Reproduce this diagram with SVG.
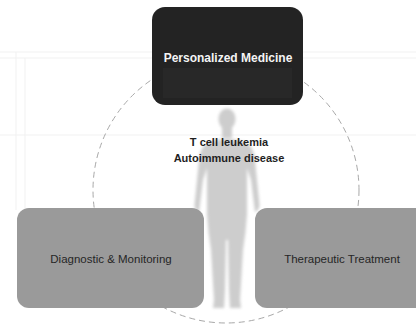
<svg xmlns="http://www.w3.org/2000/svg" width="416" height="324" viewBox="0 0 416 324">
  <style>
    .grid { stroke: #f1f1f1; stroke-width: 1; fill: none; }
    .ring { fill: none; stroke: #a8a8a8; stroke-width: 1; stroke-dasharray: 6 4; }
    .box-dark { fill: #232323; }
    .box-grey { fill: #9a9a9a; }
    .lbl { font-family: "Liberation Sans", Arial, sans-serif; text-anchor: middle; }
    .lbl-light { fill: #f4f4f4; font-size: 12px; font-weight: bold; }
    .lbl-dark { fill: #262626; font-size: 11.5px; }
    .lbl-center { fill: #1e1e1e; font-size: 11px; font-weight: bold; }
  </style>
  <defs>
    <filter id="soft" x="-20%" y="-10%" width="140%" height="120%">
      <feGaussianBlur stdDeviation="1.8"/>
    </filter>
  </defs>

  <rect width="416" height="324" fill="#ffffff"/>

  <!-- faint background table rules -->
  <g id="backdrop">
    <line class="grid" x1="0" y1="52" x2="416" y2="52"/>
    <line class="grid" x1="0" y1="58" x2="416" y2="58"/>
    <line class="grid" x1="0" y1="135" x2="416" y2="135"/>
    <line class="grid" x1="16" y1="52" x2="16" y2="210"/>
    <line class="grid" x1="25" y1="58" x2="25" y2="210"/>
  </g>

  <!-- connectors: dashed cycle ring -->
  <g id="connectors">
    <circle class="ring" cx="226" cy="190" r="133"/>
  </g>

  <!-- human silhouette -->
  <g id="figure" filter="url(#soft)" fill="#cdcdcd">
    <ellipse cx="227" cy="119" rx="8.5" ry="10.5"/>
    <rect x="222" y="126" width="10" height="12"/>
    <path d="M208 143 Q227 135 246 143 Q254 147 255 160 L259 200 Q261 210 255 212 L251 180 L247 168 L247 214
             Q246 232 243 250 L240 300 L241 308 L230 308 L229 290 L228 240 L226 240 L225 290 L224 308 L213 308
             L214 300 L211 250 Q208 232 207 214 L207 168 L203 180 L199 212 Q193 210 195 200 L199 160 Q200 147 208 143 Z"/>
  </g>

  <g id="node-personalized">
    <rect class="box-dark" x="152" y="7" width="151" height="98" rx="13"/>
    <rect x="163" y="68" width="129" height="30" fill="#282828"/>
    <text class="lbl lbl-light" x="228" y="62">Personalized Medicine</text>
  </g>

  <g id="node-conditions">
    <text class="lbl lbl-center" x="229" y="146">T cell leukemia</text>
    <text class="lbl lbl-center" x="229" y="162">Autoimmune disease</text>
  </g>

  <g id="node-diagnostic">
    <rect class="box-grey" x="17" y="208" width="187" height="100" rx="12"/>
    <text class="lbl lbl-dark" x="111" y="263">Diagnostic &amp; Monitoring</text>
  </g>

  <g id="node-therapeutic">
    <rect class="box-grey" x="255" y="208" width="175" height="100" rx="12"/>
    <text class="lbl lbl-dark" x="342" y="263">Therapeutic Treatment</text>
  </g>
</svg>
